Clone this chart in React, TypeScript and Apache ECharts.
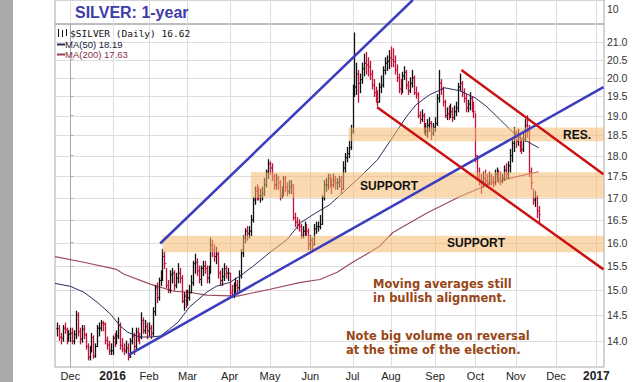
import { useEffect, useRef } from "react";
import * as echarts from "echarts";

type Bar = [number, number, number]; // low, high, close

// Daily bars [low, high, close], trading-day index starts at -7 (19 Nov 2015)
const nov15: Bar[] = [[14.10,14.35,14.24],[14.02,14.30,14.08],[13.95,14.15,14.06],[14.00,14.30,14.25],[14.15,14.35,14.22],[13.95,14.25,14.05],[14.00,14.20,14.13]];
const dec15: Bar[] = [[14.00,14.25,14.15],[13.95,14.25,14.00],[13.95,14.20,14.13],[14.05,14.58,14.50],[14.10,14.55,14.18],[13.95,14.25,14.04],[13.98,14.30,14.23],[14.05,14.30,14.12],[13.85,14.15,13.90],[13.65,13.95,13.70],[13.65,13.90,13.84],[13.80,14.15,14.07],[13.68,14.10,13.72],[13.70,13.95,13.90],[13.90,14.30,14.25],[14.10,14.35,14.25],[14.20,14.40,14.35],[14.20,14.38,14.33],[13.95,14.35,14.02],[13.85,14.08,13.93],[13.75,14.00,13.82],[13.75,13.95,13.82]];
const jan16: Bar[] = [[13.75,14.10,14.06],[13.90,14.15,13.98],[13.95,14.20,14.10],[14.05,14.45,14.30],[13.85,14.35,13.92],[13.80,14.05,13.85],[13.75,13.95,13.82],[13.78,14.00,13.87],[13.65,13.95,13.70],[13.70,14.05,14.00],[13.95,14.25,14.10],[13.75,14.15,13.90],[13.85,14.25,14.17],[14.00,14.25,14.10],[13.95,14.15,14.08],[14.05,14.55,14.40],[14.15,14.45,14.20],[14.15,14.40,14.28],[14.05,14.35,14.20]];
const feb16: Bar[] = [[14.10,14.35,14.25],[14.05,14.30,14.15],[14.10,14.65,14.57],[14.50,15.10,15.05],[14.75,15.15,14.85],[14.80,15.25,15.20],[15.10,15.40,15.33],[15.20,15.85,15.70],[15.45,15.80,15.55],[15.05,15.45,15.10],[14.95,15.20,15.00],[14.95,15.40,15.32],[15.15,15.45,15.35],[15.00,15.40,15.10],[15.05,15.35,15.25],[15.15,15.55,15.35],[15.15,15.45,15.25],[14.75,15.30,14.78],[14.60,14.95,14.88],[14.65,15.00,14.80]];
const mar16: Bar[] = [[14.70,15.00,14.85],[14.80,15.10,14.95],[14.95,15.30,15.15],[15.10,15.60,15.55],[15.35,15.75,15.58],[15.30,15.65,15.40],[15.15,15.50,15.22],[15.10,15.50,15.45],[15.30,15.60,15.50],[15.35,15.60,15.45],[15.15,15.50,15.25],[15.15,15.50,15.40],[15.35,16.10,15.95],[15.70,16.05,15.85],[15.60,15.95,15.70],[15.55,15.90,15.75],[15.25,15.80,15.35],[15.10,15.40,15.20],[15.10,15.45,15.28],[15.20,15.55,15.45],[15.25,15.50,15.35],[15.20,15.45,15.35]];
const apr16: Bar[] = [[14.90,15.35,14.95],[14.85,15.10,14.90],[14.85,15.15,15.05],[14.95,15.25,15.10],[14.95,15.20,15.05],[15.00,15.40,15.30],[15.25,15.85,15.78],[15.70,16.15,16.10],[16.00,16.30,16.25],[16.05,16.35,16.20],[16.10,16.35,16.25],[16.15,16.60,16.50],[16.45,17.00,16.95],[16.85,17.25,17.15],[16.95,17.30,17.10],[16.95,17.25,17.05],[16.90,17.20,17.05],[16.95,17.25,17.10],[17.05,17.45,17.30],[17.25,17.65,17.60],[17.45,17.90,17.80]];
const may16: Bar[] = [[17.55,17.85,17.70],[17.40,17.80,17.50],[17.20,17.55,17.30],[17.20,17.55,17.45],[17.20,17.50,17.35],[16.95,17.40,17.05],[17.00,17.25,17.10],[17.05,17.50,17.45],[17.15,17.50,17.25],[17.05,17.35,17.15],[17.10,17.40,17.25],[17.10,17.40,17.30],[16.50,17.30,16.55],[16.35,16.65,16.45],[16.30,16.55,16.40],[16.25,16.50,16.35],[16.10,16.40,16.15],[16.10,16.35,16.25],[16.15,16.45,16.30],[16.15,16.40,16.25],[15.85,16.30,15.97]];
const jun16: Bar[] = [[15.85,16.15,16.05],[15.85,16.10,15.95],[15.95,16.40,16.30],[16.20,16.45,16.35],[16.25,16.45,16.35],[16.30,16.60,16.40],[16.40,17.05,17.00],[16.95,17.40,17.30],[17.15,17.45,17.30],[17.20,17.55,17.45],[17.25,17.55,17.40],[17.10,17.45,17.30],[17.25,17.55,17.40],[17.20,17.50,17.35],[17.20,17.45,17.35],[17.25,17.50,17.40],[17.10,17.50,17.20],[17.20,17.85,17.70],[17.60,18.05,17.95],[17.85,18.20,18.05],[17.95,18.35,18.20],[18.15,18.75,18.60]];
const jul16: Bar[] = [[18.55,19.80,19.60],[19.50,21.25,19.75],[19.55,20.40,20.10],[19.35,20.20,19.85],[19.60,20.10,19.95],[19.85,20.40,20.25],[20.05,20.65,20.40],[20.10,20.70,20.35],[20.05,20.55,20.30],[19.95,20.45,20.10],[19.70,20.20,19.80],[19.50,19.95,19.60],[19.35,19.75,19.45],[19.25,19.65,19.35],[19.35,19.85,19.75],[19.60,20.05,19.80],[19.75,20.30,20.20],[20.10,20.55,20.40],[20.20,20.60,20.45],[20.25,20.75,20.55]];
const aug16: Bar[] = [[20.30,20.85,20.50],[20.30,20.80,20.45],[20.10,20.60,20.20],[19.90,20.35,20.00],[19.60,20.10,19.70],[19.55,19.95,19.65],[19.60,20.15,20.05],[19.95,20.30,20.15],[19.70,20.20,19.80],[19.55,19.90,19.65],[19.60,20.00,19.85],[19.75,20.20,20.00],[19.55,20.05,19.60],[19.45,19.75,19.55],[18.95,19.60,19.00],[18.80,19.10,18.90],[18.85,19.15,19.00],[18.55,19.05,18.60],[18.50,18.80,18.60],[18.45,18.90,18.75],[18.60,18.95,18.80],[18.40,18.85,18.55],[18.50,18.80,18.70]];
const sep16: Bar[] = [[18.60,18.95,18.80],[18.75,19.55,19.45],[19.35,20.20,19.85],[19.55,19.95,19.70],[19.25,19.75,19.35],[18.95,19.40,19.00],[18.90,19.20,19.05],[18.90,19.25,19.00],[18.95,19.30,19.10],[18.85,19.20,18.95],[18.90,19.25,19.10],[19.00,19.35,19.20],[19.10,19.85,19.75],[19.65,20.10,19.85],[19.50,19.90,19.60],[19.35,19.70,19.45],[19.10,19.55,19.20],[19.10,19.40,19.30],[19.15,19.60,19.45],[19.10,19.50,19.20],[18.95,19.35,19.10]];
const oct16: Bar[] = [[17.85,19.05,18.00],[17.40,18.00,17.50],[17.30,17.70,17.40],[17.10,17.55,17.35],[17.25,17.60,17.45],[17.30,17.65,17.40],[17.25,17.55,17.35],[17.30,17.60,17.50],[17.30,17.55,17.40],[17.25,17.50,17.35],[17.30,17.65,17.55],[17.40,17.70,17.55],[17.35,17.65,17.45],[17.30,17.60,17.40],[17.35,17.55,17.45],[17.40,17.75,17.65],[17.45,17.80,17.55],[17.45,17.85,17.75],[17.60,18.15,18.00],[17.85,18.40,18.30],[18.10,18.70,18.55]];
const nov16: Bar[] = [[18.20,18.60,18.35],[18.25,18.65,18.45],[18.10,18.50,18.25],[18.05,18.40,18.15],[18.10,18.55,18.40],[18.35,18.90,18.75],[18.45,19.00,18.60],[17.50,18.75,17.60],[17.20,17.70,17.35],[16.85,17.20,16.95],[16.80,17.15,17.00],[16.55,17.05,16.70],[16.45,16.80,16.62]];
const firstIndex = -7;

// Moving averages [trading-day index, value]
const ma50: [number, number][] = [[-8,15.14],[0,15.08],[7,14.96],[14,14.76],[21,14.52],[26,14.29],[30,14.17],[36,14.08],[42,14.08],[47,14.10],[56,14.36],[62,14.66],[71,14.96],[76,15.08],[83,15.16],[88,15.28],[95,15.49],[104,15.79],[113,16.07],[120,16.44],[128,16.66],[135,16.84],[142,17.12],[151,17.49],[160,17.90],[168,18.46],[175,18.97],[180,19.28],[187,19.54],[195,19.73],[203,19.65],[211,19.46],[217,19.23],[224,18.89],[232,18.51],[244,18.19]];
const ma200: [number, number][] = [[-8,15.70],[7,15.58],[24,15.43],[28,15.33],[42,15.12],[54,14.98],[62,14.96],[71,14.90],[87,14.88],[104,15.02],[120,15.16],[130,15.22],[139,15.37],[147,15.58],[156,15.79],[161,15.92],[168,16.22],[186,16.66],[203,17.03],[220,17.35],[232,17.49],[244,17.61]];

// Axis ticks
const monthStarts = [0, 22, 41, 61, 83, 104, 125, 147, 167, 190, 211, 232, 253, 274];
const monthLabels = ["Dec", "2016", "Feb", "Mar", "Apr", "May", "Jun", "Jul", "Aug", "Sep", "Oct", "Nov", "Dec", "2017"];
const priceTicks = [14.0, 14.5, 15.0, 15.5, 16.0, 16.5, 17.0, 17.5, 18.0, 18.5, 19.0, 19.5, 20.0, 20.5, 21.0];
const volumeTicks = [10];

// Shaded zones [fromIndex, toIndex, low, high]
const bands: [number, number, number, number][] = [[48, 278, 15.79, 16.15], [94, 278, 17.0, 17.6], [145, 278, 18.35, 18.7]];
// Trend lines [[index, price], [index, price]]
const blueLines: [number, number][][] = [[[30.2, 13.74], [277.7, 19.75]], [[46.8, 15.98], [178.4, 22.22]]];
const redLines: [number, number][][] = [[[203.7, 20.21], [277.7, 17.55]], [[159.8, 19.22], [277.7, 15.43]]];

const X_MIN = -8, X_MAX = 278, Y_MIN = 13.52, Y_MAX = 21.51;

export default function App() {
  const ref = useRef<HTMLDivElement>(null);
  useEffect(() => {
    document.body.style.margin = "0";
    const chart = echarts.init(ref.current!, undefined, { renderer: "svg" });
    const L = Math.log;
    const font = '"Liberation Sans", Arial, sans-serif';
    const noteFont = '"DejaVu Sans", Verdana, sans-serif';
    const all = [...nov15, ...dec15, ...jan16, ...feb16, ...mar16, ...apr16, ...may16, ...jun16, ...jul16, ...aug16, ...sep16, ...oct16, ...nov16];
    const barData = all.map((b, i) => {
      const prev = i > 0 ? all[i - 1][2] : b[2];
      return [firstIndex + i, L(b[0]), L(b[1]), L(b[2]), L(prev), b[2] >= prev ? 1 : 0];
    });

    const trend = (pts: [number, number][], color: string) => ({
      type: "line", data: pts.map(p => [p[0], L(p[1])]), clip: false, symbol: "none", silent: true, z: 6,
      lineStyle: { color, width: 2.5 },
    });
    const txt = (text: string, x: number, y: number, fill: string, f: string, align = "left") => ({
      type: "text", x, y, z: 10,
      style: { text, fill, font: f, align, verticalAlign: "middle", textAlign: align, textVerticalAlign: "middle" },
    });

    const option: any = {
      animation: false,
      backgroundColor: "#ffffff",
      grid: [
        { left: 55, right: 39, top: 24, bottom: 14, show: true, borderColor: "#a8a8a8", borderWidth: 1 },
        { left: 55, right: 39, top: 0, height: 24, show: true, borderColor: "#a8a8a8", borderWidth: 1 },
      ],
      xAxis: [
        {
          type: "value", gridIndex: 0, min: X_MIN, max: X_MAX,
          splitLine: { show: false }, axisLine: { show: false }, axisTick: { show: false },
          axisLabel: {
            customValues: monthStarts, margin: 3, color: "#222", fontSize: 11, fontFamily: font,
            formatter: (v: number) => {
              const i = monthStarts.indexOf(Math.round(v));
              const s = i >= 0 ? monthLabels[i] : "";
              return /^\d/.test(s) ? `{b|${s}}` : s;
            },
            rich: { b: { fontWeight: "bold", fontSize: 12, color: "#222", fontFamily: font } },
          },
        },
        { type: "value", gridIndex: 1, min: X_MIN, max: X_MAX, show: false },
      ],
      yAxis: [
        {
          type: "value", gridIndex: 0, position: "right", min: L(Y_MIN), max: L(Y_MAX),
          splitLine: { show: false },
          axisLine: { show: true, lineStyle: { color: "#a8a8a8" } },
          axisTick: { show: true, customValues: priceTicks.map(L), length: 3, lineStyle: { color: "#a8a8a8" } },
          axisLabel: {
            customValues: priceTicks.map(L), margin: 3, color: "#333", fontSize: 10.5, fontFamily: font,
            formatter: (v: number) => Math.exp(v).toFixed(1),
          },
        },
        {
          type: "value", gridIndex: 1, position: "right", min: 0, max: 16,
          splitLine: { show: false }, axisLine: { show: false }, axisTick: { show: false },
          axisLabel: { customValues: volumeTicks, margin: 3, color: "#333", fontSize: 10.5, fontFamily: font },
        },
      ],
      series: [
        {
          type: "custom", xAxisIndex: 0, yAxisIndex: 0, silent: true, z: 0,
          data: priceTicks.map(v => [X_MIN, L(v)]), encode: { x: 0, y: 1 },
          renderItem: (_p: any, api: any) => {
            const a = api.coord([X_MIN, api.value(1)]);
            const b = api.coord([X_MAX, api.value(1)]);
            const y = Math.round(a[1]) + 0.5;
            return { type: "line", shape: { x1: a[0], y1: y, x2: b[0], y2: y }, style: { stroke: "#dedede", lineWidth: 1 } };
          },
        },
        {
          type: "custom", xAxisIndex: 0, yAxisIndex: 0, silent: true, z: 0,
          data: monthStarts.map(m => [m, L(Y_MIN)]), encode: { x: 0, y: 1 },
          renderItem: (_p: any, api: any) => {
            const a = api.coord([api.value(0), L(Y_MIN)]);
            const b = api.coord([api.value(0), L(Y_MAX)]);
            const x = Math.round(a[0]) + 0.5;
            return { type: "line", shape: { x1: x, y1: a[1], x2: x, y2: b[1] }, style: { stroke: "#dedede", lineWidth: 1 } };
          },
        },
        {
          type: "custom", xAxisIndex: 1, yAxisIndex: 1, silent: true, z: 0,
          data: monthStarts.map(m => [m, 0]), encode: { x: 0, y: 1 },
          renderItem: (_p: any, api: any) => {
            const a = api.coord([api.value(0), 0]);
            const b = api.coord([api.value(0), 16]);
            const x = Math.round(a[0]) + 0.5;
            return { type: "line", shape: { x1: x, y1: a[1], x2: x, y2: b[1] }, style: { stroke: "#dedede", lineWidth: 1 } };
          },
        },
        {
          type: "line", data: ma200.map(p => [p[0], L(p[1])]), symbol: "none", silent: true, z: 2,
          lineStyle: { color: "#9b4b5e", width: 1.2 },
        },
        {
          type: "custom", xAxisIndex: 0, yAxisIndex: 0, silent: true, z: 3,
          data: barData, encode: { x: 0, y: [1, 2] },
          renderItem: (_p: any, api: any) => {
            const x = api.value(0);
            const lo = api.coord([x, api.value(1)]);
            const hi = api.coord([x, api.value(2)]);
            const cl = api.coord([x, api.value(3)]);
            const op = api.coord([x, api.value(4)]);
            const color = api.value(5) ? "#111111" : "#c4123a";
            const px = Math.round(lo[0]) + 0.5;
            return {
              type: "group",
              children: [
                { type: "line", shape: { x1: px, y1: hi[1] - 0.5, x2: px, y2: lo[1] + 0.5 }, style: { stroke: color, lineWidth: 1.3 } },
                { type: "line", shape: { x1: px - 1.2, y1: op[1], x2: px, y2: op[1] }, style: { stroke: color, lineWidth: 1 } },
                { type: "line", shape: { x1: px, y1: cl[1], x2: px + 1.2, y2: cl[1] }, style: { stroke: color, lineWidth: 1 } },
              ],
            };
          },
        },
        {
          type: "line", data: ma50.map(p => [p[0], L(p[1])]), symbol: "none", silent: true, z: 4,
          lineStyle: { color: "#2c2c5c", width: 1 },
        },
        {
          type: "custom", xAxisIndex: 0, yAxisIndex: 0, silent: true, z: 5,
          data: bands.map(b => [b[0], L(b[2]), b[1], L(b[3])]), encode: { x: [0, 2], y: [1, 3] },
          renderItem: (_p: any, api: any) => {
            const a = api.coord([api.value(0), api.value(3)]);
            const b = api.coord([api.value(2), api.value(1)]);
            return {
              type: "rect", shape: { x: a[0], y: a[1], width: b[0] - a[0], height: b[1] - a[1] },
              style: { fill: "rgba(246,186,112,0.55)" },
            };
          },
        },
        ...blueLines.map(l => trend(l, "#3c3cbe")),
        ...redLines.map(l => trend(l, "#cc1111")),
      ],
      graphic: [
        { type: "rect", shape: { x: 0, y: 0, width: 13, height: 382 }, style: { fill: "#a9a9a9" }, z: 10 },
        txt("SILVER: 1-year", 75, 12, "#3d3da8", `bold 16px ${font}`),
        { type: "line", shape: { x1: 58.5, y1: 29, x2: 58.5, y2: 37 }, style: { stroke: "#111", lineWidth: 1 }, z: 10 },
        { type: "line", shape: { x1: 62.5, y1: 30, x2: 62.5, y2: 37 }, style: { stroke: "#111", lineWidth: 1 }, z: 10 },
        { type: "line", shape: { x1: 66.5, y1: 29, x2: 66.5, y2: 36 }, style: { stroke: "#111", lineWidth: 1 }, z: 10 },
        txt("$SILVER (Daily) 16.62", 70, 33, "#111", `9.5px "DejaVu Sans Mono", monospace`),
        { type: "line", shape: { x1: 57, y1: 44.5, x2: 65, y2: 44.5 }, style: { stroke: "#2c2c5c", lineWidth: 2 }, z: 10 },
        txt("MA(50) 18.19", 65, 44, "#1a1a3a", `9.5px ${font}`),
        { type: "line", shape: { x1: 57, y1: 54.5, x2: 65, y2: 54.5 }, style: { stroke: "#9b3b52", lineWidth: 2 }, z: 10 },
        txt("MA(200) 17.63", 65, 54, "#8b2e46", `9.5px ${font}`),
        txt("SUPPORT", 389, 186, "#111", `bold 12px ${font}`, "center"),
        txt("SUPPORT", 476, 243, "#111", `bold 12px ${font}`, "center"),
        txt("RES.", 577, 135, "#111", `bold 12px ${font}`, "center"),
        txt("Moving averages still", 373, 284, "#974616", `bold 11.5px ${noteFont}`),
        txt("in bullish alignment.", 373, 298, "#974616", `bold 11.5px ${noteFont}`),
        txt("Note big volume on reversal", 346, 336, "#974616", `bold 11.5px ${noteFont}`),
        txt("at the time of the election.", 346, 350, "#974616", `bold 11.5px ${noteFont}`),
      ],
    };
    chart.setOption(option);
    return () => chart.dispose();
  }, []);
  return <div ref={ref} style={{ width: 643, height: 382 }} />;
}
